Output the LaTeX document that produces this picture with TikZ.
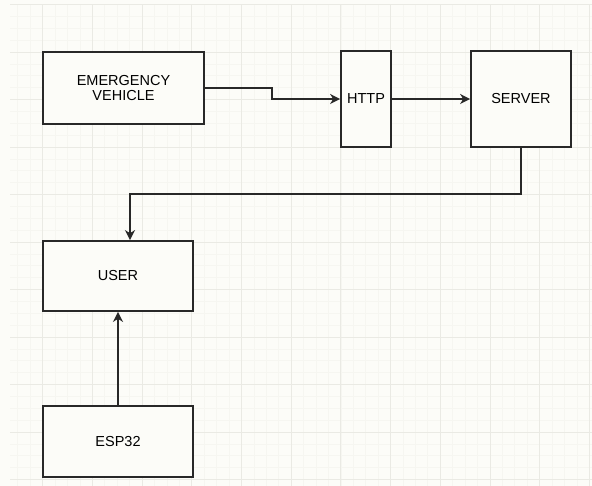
\documentclass[tikz,border=0pt]{standalone}
\usepackage{fontspec}
\setmainfont{Liberation Sans}
\usetikzlibrary{arrows.meta}

\definecolor{fondo}{RGB}{252,252,248}
\definecolor{rejilla}{RGB}{246,246,241}
\definecolor{rejillamayor}{RGB}{234,234,228}
\definecolor{trazo}{RGB}{40,40,40}

\begin{document}
\begin{tikzpicture}[>={Stealth[length=10pt, width=10pt, inset=3pt]}, x=1pt, y=-1pt,
    bloque/.style={draw=trazo, line width=1.7pt, fill=fondo, inner sep=0pt,
      align=center, font=\fontsize{14.5}{15.7}\selectfont},
    flecha/.style={->, draw=trazo, line width=1.7pt}]

  \useasboundingbox (0,0) rectangle (592,486);

  % --- Fondo y rejilla ---
  \fill[fondo] (0,0) rectangle (592,486);
  \foreach \i in {0,...,46}
    \draw[rejilla, line width=0.6pt] ({17.75+12.425*\i},4.5) -- ({17.75+12.425*\i},486);
  \foreach \i in {0,...,40}
    \draw[rejilla, line width=0.6pt] (10,{4.5+11.875*\i}) -- (592,{4.5+11.875*\i});
  \foreach \i in {0,...,11}
    \draw[rejillamayor, line width=0.7pt] ({42.6+49.7*\i},4.5) -- ({42.6+49.7*\i},486);
  \foreach \i in {0,...,10}
    \draw[rejillamayor, line width=0.7pt] (10,{4.5+47.5*\i}) -- (592,{4.5+47.5*\i});

  % --- Bloques ---
  \node[bloque, minimum width=161pt, minimum height=72pt] (ev) at (123.5,88)
    {EMERGENCY\\VEHICLE};
  \node[bloque, minimum width=50pt, minimum height=96pt] (http) at (366,99) {HTTP};
  \node[bloque, minimum width=100pt, minimum height=96pt] (server) at (521,99) {SERVER};
  \node[bloque, minimum width=150pt, minimum height=70pt] (user) at (118,276) {USER};
  \node[bloque, minimum width=150pt, minimum height=71pt] (esp) at (118,441.5) {ESP32};

  % --- Conexiones ---
  \coordinate (paso) at (272,93);
  \coordinate (giro) at (130,194);
  \draw[flecha] (ev.east) -| (paso) |- (http.west);
  \draw[flecha] (http) -- (server);
  \draw[flecha] (server.south) |- (giro) -- (giro |- user.north);
  \draw[flecha] (esp) -- (user);

\end{tikzpicture}
\end{document}
